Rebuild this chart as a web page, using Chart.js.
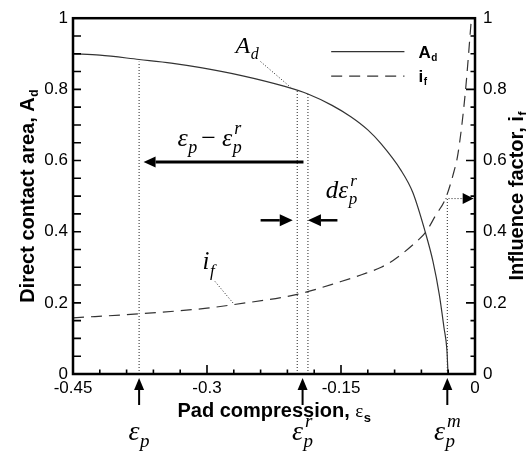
<!DOCTYPE html>
<html>
<head>
<meta charset="utf-8">
<script src="https://cdn.jsdelivr.net/npm/chart.js@4.4.1/dist/chart.umd.min.js"></script>
<style>
  html, body { margin: 0; padding: 0; background: #fff; }
</style>
</head>
<body>
<canvas id="myChart" width="526" height="453"></canvas>
<script>
// direct contact area A_d vs pad compression (left axis)
const adX = [-0.45, -0.42, -0.376, -0.34, -0.307, -0.26, -0.214, -0.187, -0.16, -0.139, -0.12, -0.1055, -0.083, -0.0696, -0.055, -0.047, -0.040, -0.0347, -0.0314, -0.0302];
const adY = [0.900, 0.896, 0.884, 0.874, 0.861, 0.838, 0.809, 0.787, 0.755, 0.723, 0.686, 0.648, 0.573, 0.510, 0.393, 0.316, 0.224, 0.130, 0.066, 0.0];

// influence factor i_f (right axis)
const ifX = [-0.45, -0.376, -0.30, -0.273, -0.199, -0.15, -0.127, -0.105, -0.089, -0.066, -0.055, -0.044, -0.033, -0.024, -0.019, -0.011, -0.004];
const ifY = [0.158, 0.169, 0.185, 0.194, 0.224, 0.260, 0.279, 0.300, 0.324, 0.371, 0.399, 0.446, 0.493, 0.565, 0.620, 0.787, 1.0];

const xTicks = [-0.45, -0.3, -0.15, 0];
const yTicks = [0, 0.2, 0.4, 0.6, 0.8, 1];

// marked strains
const epsP = -0.376;
const epsPr = [-0.199, -0.187];
const epsPrArrow = -0.193;
const epsPm = -0.031;

const sans = '"Liberation Sans", Arial, sans-serif';
const serif = '"Liberation Serif", "Times New Roman", serif';

const pts = (xs, ys) => xs.map((x, i) => ({ x: x, y: ys[i] }));
const guide = (data) => ({
    data: data, borderColor: '#222', borderWidth: 1, borderDash: [1, 2],
    pointRadius: 0, tension: 0, yAxisID: 'y'
});

const datasets = [
    { label: 'A_d', data: pts(adX, adY), borderColor: '#333', borderWidth: 1.2,
      pointRadius: 0, cubicInterpolationMode: 'monotone', yAxisID: 'y' },
    { label: 'i_f', data: pts(ifX, ifY), borderColor: '#333', borderWidth: 1.2, borderDash: [11, 7],
      pointRadius: 0, cubicInterpolationMode: 'monotone', yAxisID: 'y2' },
    guide([{ x: epsP, y: 0 }, { x: epsP, y: 0.878 }]),
    guide([{ x: epsPr[0], y: 0 }, { x: epsPr[0], y: 0.800 }]),
    guide([{ x: epsPr[1], y: 0 }, { x: epsPr[1], y: 0.787 }]),
    guide([{ x: epsPm, y: 0 }, { x: epsPm, y: 0.493 }]),
    guide([{ x: -0.033, y: 0.493 }, { x: -0.014, y: 0.493 }]),
    guide([{ x: -0.240, y: 0.878 }, { x: -0.2065, y: 0.806 }]),
    guide([{ x: -0.291, y: 0.260 }, { x: -0.270, y: 0.197 }])
];

function arrow(ctx, x1, y1, x2, y2, lw, len, half) {
    const a = Math.atan2(y2 - y1, x2 - x1);
    const bx = x2 - len * Math.cos(a), by = y2 - len * Math.sin(a);
    ctx.lineWidth = lw;
    ctx.beginPath(); ctx.moveTo(x1, y1); ctx.lineTo(bx, by); ctx.stroke();
    ctx.beginPath();
    ctx.moveTo(x2, y2);
    ctx.lineTo(bx - half * Math.sin(a), by + half * Math.cos(a));
    ctx.lineTo(bx + half * Math.sin(a), by - half * Math.cos(a));
    ctx.closePath(); ctx.fill();
}

// italic symbol with stacked sub/superscript, returns width
function term(ctx, x, y, base, sub, sup, size) {
    ctx.font = 'italic ' + size + 'px ' + serif;
    ctx.fillText(base, x, y);
    const sx = x + ctx.measureText(base).width + 0.5;
    ctx.font = 'italic ' + Math.round(size * 0.68) + 'px ' + serif;
    let w = 0;
    if (sub) { ctx.fillText(sub, sx, y + size * 0.25); w = ctx.measureText(sub).width; }
    if (sup) { ctx.fillText(sup, sx + 1.5, y - size * 0.46); w = Math.max(w, ctx.measureText(sup).width + 1.5); }
    return sx + w - x;
}
function termWidth(ctx, base, sub, sup, size) {
    ctx.font = 'italic ' + size + 'px ' + serif;
    const b = ctx.measureText(base).width + 0.5;
    ctx.font = 'italic ' + Math.round(size * 0.68) + 'px ' + serif;
    const s = Math.max(sub ? ctx.measureText(sub).width : 0, sup ? ctx.measureText(sup).width + 1.5 : 0);
    return b + s;
}

function boldWithSub(ctx, x, y, main, sub, size, subSize, dy) {
    ctx.font = 'bold ' + size + 'px ' + sans;
    ctx.fillText(main, x, y);
    const w = ctx.measureText(main).width;
    ctx.font = 'bold ' + subSize + 'px ' + sans;
    ctx.fillText(sub, x + w + 0.5, y + dy);
    return w + 0.5 + ctx.measureText(sub).width;
}

const notes = {
    id: 'notes',
    afterDraw(chart) {
        const { ctx, chartArea: a } = chart;
        const xs = chart.scales.x, ys = chart.scales.y;
        const X = v => xs.getPixelForValue(v), Y = v => ys.getPixelForValue(v);
        ctx.save();
        ctx.strokeStyle = '#000';
        ctx.fillStyle = '#000';
        ctx.setLineDash([]);

        // frame
        ctx.lineWidth = 2.5;
        ctx.strokeRect(a.left, a.top, a.right - a.left, a.bottom - a.top);

        // inward ticks
        ctx.lineWidth = 1.6;
        ctx.beginPath();
        for (let i = 0; i <= 15; i++) {
            const px = X(-0.45 + i * 0.03);
            const len = i % 5 === 0 ? 9 : 4.5;
            ctx.moveTo(px, a.bottom); ctx.lineTo(px, a.bottom - len);
        }
        for (let i = 0; i <= 20; i++) {
            const py = Y(i * 0.05);
            ctx.moveTo(a.left, py); ctx.lineTo(a.left + 8, py);
            const len = i % 4 === 0 ? 9 : 4.5;
            ctx.moveTo(a.right, py); ctx.lineTo(a.right - len, py);
        }
        ctx.stroke();

        // arrows inside the plot
        arrow(ctx, X(-0.192), Y(0.596), X(-0.371), Y(0.596), 3, 12, 5.5);
        arrow(ctx, X(-0.240), Y(0.432), X(-0.204), Y(0.432), 2.5, 13, 6);
        arrow(ctx, X(-0.154), Y(0.432), X(-0.187), Y(0.432), 2.5, 13, 6);
        arrow(ctx, X(-0.014), Y(0.493), X(-0.0015), Y(0.493), 1, 11, 5.5);

        // arrows below the axis
        [epsP, epsPrArrow, epsPm].forEach(v => {
            arrow(ctx, X(v), a.bottom + 31, X(v), a.bottom + 4, 2, 12, 5);
        });

        ctx.textAlign = 'left';
        ctx.textBaseline = 'alphabetic';

        // labels below the arrows
        const below = [[epsP, null], [epsPrArrow, 'r'], [epsPm, 'm']];
        below.forEach(([v, sup]) => {
            const w = termWidth(ctx, 'ε', 'p', sup, 28);
            term(ctx, X(v) - w / 2, a.bottom + 66, 'ε', 'p', sup, 28);
        });

        // annotations in the plot
        term(ctx, X(-0.268), Y(0.903), 'A', 'd', null, 24);
        let x0 = X(-0.333), yb = Y(0.640);
        let w = term(ctx, x0, yb, 'ε', 'p', null, 26);
        ctx.font = '26px ' + serif;
        ctx.fillText('\u2212', x0 + w + 4, yb);
        w += 4 + ctx.measureText('\u2212').width + 6;
        term(ctx, x0 + w, yb, 'ε', 'p', 'r', 26);

        x0 = X(-0.167); yb = Y(0.496);
        ctx.font = 'italic 25px ' + serif;
        ctx.fillText('d', x0, yb);
        term(ctx, x0 + ctx.measureText('d').width, yb, 'ε', 'p', 'r', 25);

        term(ctx, X(-0.305), Y(0.294), 'i', 'f', null, 25);

        // legend
        const lx1 = X(-0.161), lx2 = X(-0.079);
        const r1 = Y(0.906), r2 = Y(0.837);
        ctx.strokeStyle = '#333';
        ctx.lineWidth = 1.2;
        ctx.beginPath(); ctx.moveTo(lx1, r1); ctx.lineTo(lx2, r1); ctx.stroke();
        ctx.setLineDash([11, 7]);
        ctx.beginPath(); ctx.moveTo(lx1, r2); ctx.lineTo(lx2, r2); ctx.stroke();
        ctx.setLineDash([]);
        boldWithSub(ctx, lx2 + 14, r1 + 6, 'A', 'd', 17, 10, 3);
        boldWithSub(ctx, lx2 + 14, r2 + 6, 'i', 'f', 17, 10, 3);

        // axis titles
        ctx.font = 'bold 20px ' + sans;
        const xt = 'Pad compression, ';
        const xtw = ctx.measureText(xt).width;
        ctx.font = '19px ' + serif;
        const ew = ctx.measureText('ε').width;
        ctx.font = 'bold 13px ' + sans;
        const sw = ctx.measureText('s').width;
        let tx = (a.left + a.right) / 2 - (xtw + ew + sw) / 2;
        const ty = a.bottom + 43;
        ctx.font = 'bold 20px ' + sans;
        ctx.fillText(xt, tx, ty);
        ctx.font = '19px ' + serif;
        ctx.fillText('ε', tx + xtw, ty);
        ctx.font = 'bold 13px ' + sans;
        ctx.fillText('s', tx + xtw + ew + 0.5, ty + 5);

        const midY = (a.top + a.bottom) / 2;
        [[34, 'Direct contact area, A', 'd'], [523, 'Influence factor, i', 'f']].forEach(([cx, main, sub]) => {
            ctx.save();
            ctx.translate(cx, midY);
            ctx.rotate(-Math.PI / 2);
            ctx.font = 'bold 20px ' + sans;
            const mw = ctx.measureText(main).width;
            ctx.font = 'bold 12px ' + sans;
            const tw = mw + 0.5 + ctx.measureText(sub).width;
            boldWithSub(ctx, -tw / 2, 0, main, sub, 20, 12, 4);
            ctx.restore();
        });

        ctx.restore();
    }
};

const tickFont = { family: sans, size: 17 };

new Chart(document.getElementById('myChart').getContext('2d'), {
    type: 'line',
    data: { datasets: datasets },
    options: {
        responsive: false,
        animation: false,
        devicePixelRatio: 1,
        layout: { padding: { top: 13, left: 0, right: 0, bottom: 0 } },
        plugins: { legend: { display: false }, tooltip: { enabled: false } },
        scales: {
            x: {
                type: 'linear', min: -0.45, max: 0,
                afterBuildTicks: s => { s.ticks = xTicks.map(v => ({ value: v })); },
                afterFit: s => { s.height = 79; },
                ticks: { font: tickFont, color: '#000', padding: 4, maxRotation: 0, autoSkip: false,
                         callback: v => (v === 0 ? '0' : String(v)) },
                grid: { display: false, drawTicks: false },
                border: { display: false }
            },
            y: {
                position: 'left', min: 0, max: 1,
                afterBuildTicks: s => { s.ticks = yTicks.map(v => ({ value: v })); },
                afterFit: s => { s.width = 73; },
                ticks: { font: tickFont, color: '#000', padding: 5, callback: v => String(v) },
                grid: { display: false, drawTicks: false },
                border: { display: false }
            },
            y2: {
                position: 'right', min: 0, max: 1,
                afterBuildTicks: s => { s.ticks = yTicks.map(v => ({ value: v })); },
                afterFit: s => { s.width = 51; },
                ticks: { font: tickFont, color: '#000', padding: 8, callback: v => String(v) },
                grid: { display: false, drawTicks: false },
                border: { display: false }
            }
        }
    },
    plugins: [notes]
});
</script>
</body>
</html>
